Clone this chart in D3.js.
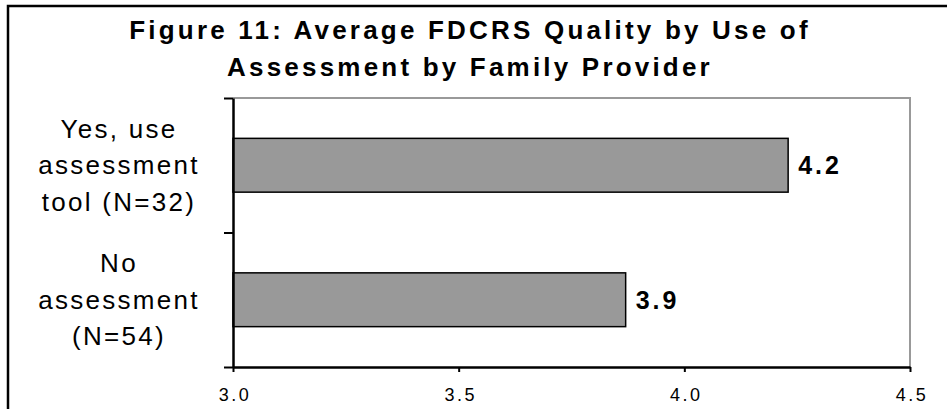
<!DOCTYPE html>
<html>
<head>
<meta charset="utf-8">
<script src="https://cdn.jsdelivr.net/npm/d3@7"></script>
<style>
  body { margin: 0; background: #fff; }
  svg { display: block; font-family: Arial, "Liberation Sans", sans-serif; }
</style>
</head>
<body>
<div id="chart"></div>
<script>
const titleLines = ['Figure 11:  Average FDCRS Quality by Use of', 'Assessment by Family Provider'];
const categories = [
    ['Yes, use', 'assessment', 'tool (N=32)'],
    ['No', 'assessment', '(N=54)']
];
const values = [4.23, 3.87];
const valueLabels = ['4.2', '3.9'];
const xTicks = [3.0, 3.5, 4.0, 4.5];

const width = 947, height = 409;
const plot = {left: 233, right: 910, top: 98, bottom: 367};

const svg = d3.select('#chart').append('svg')
    .attr('width', width)
    .attr('height', height);

// outer frame (left + top only visible)
svg.append('path')
    .attr('d', `M8,${height} V6 H${width}`)
    .attr('fill', 'none')
    .attr('stroke', '#000')
    .attr('stroke-width', 2.5);

svg.append('g')
    .selectAll('text')
    .data(titleLines)
    .join('text')
    .attr('x', 470)
    .attr('y', (d, i) => 39 + i * 37)
    .attr('text-anchor', 'middle')
    .style('font-size', '26px')
    .style('font-weight', 'bold')
    .style('letter-spacing', '3.2px')
    .text(d => d);

const x = d3.scaleLinear()
    .domain([3.0, 4.5])
    .range([plot.left, plot.right]);

const y = d3.scaleBand()
    .domain(d3.range(categories.length))
    .range([plot.top, plot.bottom])
    .paddingInner(0.6)
    .paddingOuter(0.3);

// grey plot-area border on top and right
svg.append('path')
    .attr('d', `M${plot.left},${plot.top} H${plot.right} V${plot.bottom}`)
    .attr('fill', 'none')
    .attr('stroke', '#999')
    .attr('stroke-width', 2);

svg.append('g')
    .selectAll('rect')
    .data(values)
    .join('rect')
    .attr('x', x(3.0))
    .attr('y', (d, i) => y(i))
    .attr('width', d => x(d) - x(3.0))
    .attr('height', y.bandwidth())
    .attr('fill', '#999999')
    .attr('stroke', '#000')
    .attr('stroke-width', 1.5);

svg.append('g')
    .selectAll('text')
    .data(values)
    .join('text')
    .attr('x', d => x(d) + 10)
    .attr('y', (d, i) => y(i) + y.bandwidth() / 2)
    .attr('dy', '0.36em')
    .style('font-size', '25px')
    .style('font-weight', 'bold')
    .style('letter-spacing', '3px')
    .text((d, i) => valueLabels[i]);

// x axis
const xAxis = svg.append('g')
    .attr('transform', `translate(0,${plot.bottom})`)
    .call(d3.axisBottom(x).tickValues(xTicks).tickFormat(d3.format('.1f')).tickSize(5).tickSizeOuter(0));
xAxis.select('.domain').attr('stroke', '#000').attr('stroke-width', 2.5);
xAxis.selectAll('.tick line').attr('stroke-width', 2);
xAxis.selectAll('.tick text')
    .style('font-size', '18px')
    .style('font-family', 'Arial, "Liberation Sans", sans-serif')
    .style('letter-spacing', '2.5px')
    .attr('fill', '#000')
    .attr('dy', null)
    .attr('dx', 1.5)
    .attr('y', 34);

// y axis: ticks sit between categories
const yEdges = d3.scaleLinear().domain([0, categories.length]).range([plot.top, plot.bottom]);
const yAxis = svg.append('g')
    .attr('transform', `translate(${plot.left},0)`)
    .call(d3.axisLeft(yEdges).tickValues(d3.range(categories.length + 1)).tickFormat('').tickSize(9).tickSizeOuter(0));
yAxis.select('.domain').attr('stroke', '#000').attr('stroke-width', 2.5);
yAxis.selectAll('.tick line').attr('stroke-width', 2);

// category labels
const lineGap = 36.5;
svg.append('g')
    .selectAll('text')
    .data(categories)
    .join('text')
    .attr('y', (d, i) => y(i) + y.bandwidth() / 2)
    .attr('text-anchor', 'middle')
    .style('font-size', '26px')
    .style('letter-spacing', '2.3px')
    .selectAll('tspan')
    .data(d => d.map((t, j) => ({t, j, n: d.length})))
    .join('tspan')
    .attr('x', 119)
    .attr('dy', d => d.j === 0 ? -(d.n - 1) * lineGap / 2 + 9 : lineGap)
    .text(d => d.t);
</script>
</body>
</html>
